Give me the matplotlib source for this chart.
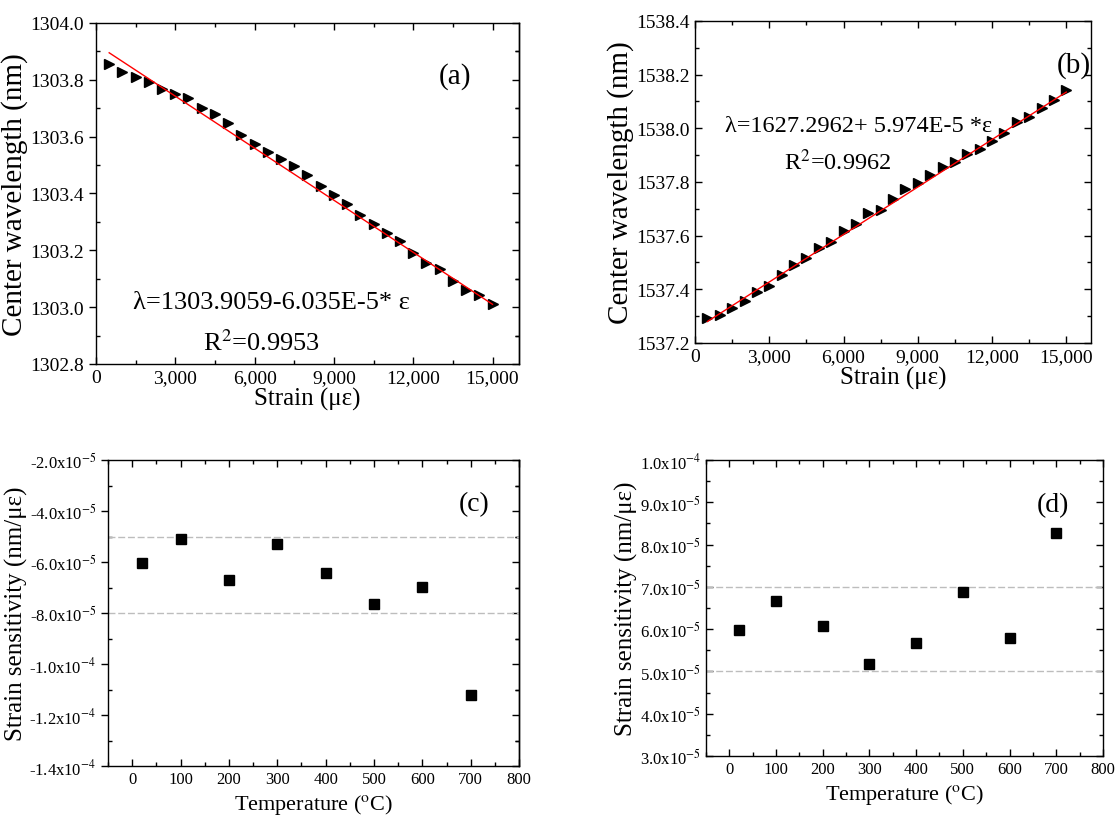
import matplotlib
matplotlib.use("Agg")
import matplotlib.pyplot as plt
from matplotlib.ticker import MultipleLocator, FormatStrFormatter

plt.rcParams['font.family'] = ['Liberation Serif', 'DejaVu Serif']
plt.rcParams['mathtext.fontset'] = 'stix'

# ---- data ----
strain = [500, 1000, 1500, 2000, 2500, 3000, 3500, 4000, 4500, 5000,
          5500, 6000, 6500, 7000, 7500, 8000, 8500, 9000, 9500, 10000,
          10500, 11000, 11500, 12000, 12500, 13000, 13500, 14000, 14500, 15000]

wl_a = [1303.854, 1303.827, 1303.809, 1303.792, 1303.768, 1303.751, 1303.735, 1303.701,
        1303.680, 1303.649, 1303.607, 1303.575, 1303.546, 1303.520, 1303.495, 1303.466,
        1303.425, 1303.394, 1303.364, 1303.323, 1303.292, 1303.262, 1303.233, 1303.192,
        1303.154, 1303.133, 1303.092, 1303.062, 1303.042, 1303.012]
fit_a_x = [500, 15000]
fit_a_y = [1303.895, 1303.010]

wl_b = [1537.293, 1537.303, 1537.331, 1537.358, 1537.389, 1537.414, 1537.455, 1537.490,
        1537.517, 1537.554, 1537.576, 1537.617, 1537.645, 1537.685, 1537.695, 1537.737,
        1537.775, 1537.797, 1537.826, 1537.857, 1537.874, 1537.903, 1537.924, 1537.954,
        1537.983, 1538.023, 1538.043, 1538.074, 1538.104, 1538.143]
fit_b_x = [500, 15000]
fit_b_y = [1537.280, 1538.135]

temps = [20, 100, 200, 300, 400, 500, 600, 700]
sens_c = [-6.05e-5, -5.11e-5, -6.69e-5, -5.29e-5, -6.43e-5, -7.63e-5, -6.99e-5, -11.23e-5]
sens_d = [5.97e-5, 6.67e-5, 6.08e-5, 5.18e-5, 5.67e-5, 6.87e-5, 5.78e-5, 8.28e-5]
bounds_c = [-5e-5, -8e-5]
bounds_d = [7e-5, 5e-5]

strain_ticks = [0, 3000, 6000, 9000, 12000, 15000]
strain_labels = ['0', '3,000', '6,000', '9,000', '12,000', '15,000']
yticks_c = [-2e-5, -4e-5, -6e-5, -8e-5, -1.0e-4, -1.2e-4, -1.4e-4]
ylabels_c = [r'-2.0x10$^{-5}$', r'-4.0x10$^{-5}$', r'-6.0x10$^{-5}$', r'-8.0x10$^{-5}$',
             r'-1.0x10$^{-4}$', r'-1.2x10$^{-4}$', r'-1.4x10$^{-4}$']
yticks_d = [3e-5, 4e-5, 5e-5, 6e-5, 7e-5, 8e-5, 9e-5, 1e-4]
ylabels_d = [r'3.0x10$^{-5}$', r'4.0x10$^{-5}$', r'5.0x10$^{-5}$', r'6.0x10$^{-5}$',
             r'7.0x10$^{-5}$', r'8.0x10$^{-5}$', r'9.0x10$^{-5}$', r'1.0x10$^{-4}$']

fig = plt.figure(figsize=(11.16, 8.20), dpi=100)
ax_a = fig.add_axes([0.0860, 0.5549, 0.3790, 0.4159])
ax_b = fig.add_axes([0.6228, 0.5805, 0.3548, 0.3927])
ax_c = fig.add_axes([0.0968, 0.0646, 0.3683, 0.3732])
ax_d = fig.add_axes([0.6326, 0.0768, 0.3557, 0.3610])


def style_axes(ax, tick_size, left_out=False):
    for s in ax.spines.values():
        s.set_linewidth(1.0)
    ax.tick_params(which='both', top=True, right=True, direction='in',
                   labelsize=tick_size, width=1.0)
    ax.tick_params(which='major', length=5)
    ax.tick_params(which='minor', length=3)
    if left_out:
        # left major ticks point outward in the original
        ax.tick_params(axis='y', which='major', direction='out', right=False)
        sec = ax.secondary_yaxis('right')
        sec.set_yticks(ax.get_yticks())
        sec.yaxis.set_minor_locator(ax.yaxis.get_minor_locator())
        sec.tick_params(which='both', direction='in', labelright=False, width=1.0)
        sec.tick_params(which='major', length=5)
        sec.tick_params(which='minor', length=3)
        sec.spines['right'].set_linewidth(1.0)


# (a)
ax_a.plot(strain, wl_a, linestyle='none', marker='>', color='black', markersize=6.5)
ax_a.plot(fit_a_x, fit_a_y, color='red', linewidth=1)
ax_a.set_xlim(0, 16000)
ax_a.set_ylim(1302.8, 1304.0)
ax_a.set_xticks(strain_ticks)
ax_a.set_xticklabels(strain_labels)
ax_a.xaxis.set_minor_locator(MultipleLocator(1500))
ax_a.set_yticks([1302.8, 1303.0, 1303.2, 1303.4, 1303.6, 1303.8, 1304.0])
ax_a.yaxis.set_minor_locator(MultipleLocator(0.1))
ax_a.yaxis.set_major_formatter(FormatStrFormatter('%.1f'))
ax_a.set_xlabel('Strain (με)', fontsize=18, labelpad=1)
ax_a.set_ylabel('Center wavelength (nm)', fontsize=21, labelpad=2)
style_axes(ax_a, 14, left_out=True)
ax_a.text(0.414, 0.182, 'λ=1303.9059-6.035E-5* ε', transform=ax_a.transAxes,
          fontsize=19, ha='center', va='center')
ax_a.text(0.39, 0.064, r'R$^2$=0.9953', transform=ax_a.transAxes,
          fontsize=19, ha='center', va='center')
ax_a.text(0.849, 0.847, '(a)', transform=ax_a.transAxes, fontsize=21,
          ha='center', va='center')

# (b)
ax_b.plot(strain, wl_b, linestyle='none', marker='>', color='black', markersize=6.5)
ax_b.plot(fit_b_x, fit_b_y, color='red', linewidth=1)
ax_b.set_xlim(0, 16000)
ax_b.set_ylim(1537.2, 1538.4)
ax_b.set_xticks(strain_ticks)
ax_b.set_xticklabels(strain_labels)
ax_b.xaxis.set_minor_locator(MultipleLocator(1500))
ax_b.set_yticks([1537.2, 1537.4, 1537.6, 1537.8, 1538.0, 1538.2, 1538.4])
ax_b.yaxis.set_minor_locator(MultipleLocator(0.1))
ax_b.yaxis.set_major_formatter(FormatStrFormatter('%.1f'))
ax_b.set_xlabel('Strain (με)', fontsize=18, labelpad=1)
ax_b.set_ylabel('Center wavelength (nm)', fontsize=21, labelpad=2)
style_axes(ax_b, 14)
ax_b.text(0.412, 0.675, 'λ=1627.2962+ 5.974E-5 *ε', transform=ax_b.transAxes,
          fontsize=17.5, ha='center', va='center')
ax_b.text(0.361, 0.563, r'R$^2$=0.9962', transform=ax_b.transAxes,
          fontsize=17.5, ha='center', va='center')
ax_b.text(0.957, 0.866, '(b)', transform=ax_b.transAxes, fontsize=21,
          ha='center', va='center')

# (c)
for yb in bounds_c:
    ax_c.axhline(yb, color='#bdbdbd', linestyle=(0, (5, 2)), linewidth=1)
ax_c.plot(temps, sens_c, linestyle='none', marker='s', color='black', markersize=7)
ax_c.set_xlim(-50, 800)
ax_c.set_ylim(-1.4e-4, -2e-5)
ax_c.xaxis.set_major_locator(MultipleLocator(100))
ax_c.xaxis.set_minor_locator(MultipleLocator(50))
ax_c.set_yticks(yticks_c)
ax_c.set_yticklabels(ylabels_c)
ax_c.yaxis.set_minor_locator(MultipleLocator(1e-5))
ax_c.set_xlabel(r'Temperature ($^{\rm o}$C)', fontsize=16, labelpad=4)
ax_c.set_ylabel('Strain sensitivity (nm/με)', fontsize=18, labelpad=1)
style_axes(ax_c, 12, left_out=True)
ax_c.text(0.89, 0.856, '(c)', transform=ax_c.transAxes, fontsize=20,
          ha='center', va='center')

# (d)
for yb in bounds_d:
    ax_d.axhline(yb, color='#bdbdbd', linestyle=(0, (5, 2)), linewidth=1)
ax_d.plot(temps, sens_d, linestyle='none', marker='s', color='black', markersize=7)
ax_d.set_xlim(-50, 800)
ax_d.set_ylim(3e-5, 1e-4)
ax_d.xaxis.set_major_locator(MultipleLocator(100))
ax_d.xaxis.set_minor_locator(MultipleLocator(50))
ax_d.set_yticks(yticks_d)
ax_d.set_yticklabels(ylabels_d)
ax_d.yaxis.set_minor_locator(MultipleLocator(5e-6))
ax_d.set_xlabel(r'Temperature ($^{\rm o}$C)', fontsize=16, labelpad=4)
ax_d.set_ylabel('Strain sensitivity (nm/με)', fontsize=18, labelpad=1)
style_axes(ax_d, 12)
ax_d.text(0.874, 0.85, '(d)', transform=ax_d.transAxes, fontsize=20,
          ha='center', va='center')

fig.savefig('out.png', dpi=100)
